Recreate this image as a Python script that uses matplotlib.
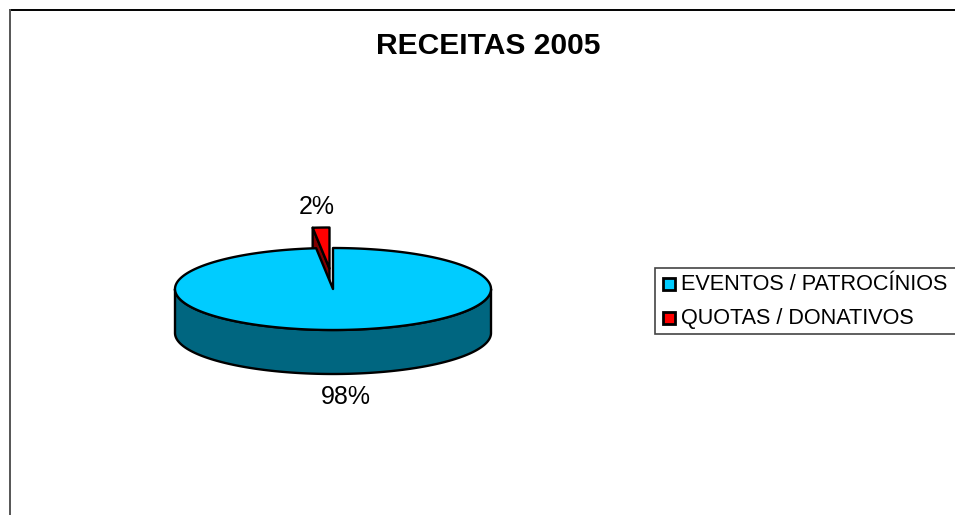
import numpy as np
import matplotlib
matplotlib.use("Agg")
import matplotlib.pyplot as plt
from matplotlib.patches import Polygon, Rectangle

plt.rcParams['font.family'] = ['Liberation Sans', 'DejaVu Sans']

categories = ["EVENTOS / PATROCÍNIOS", "QUOTAS / DONATIVOS"]
shares = [98.3, 1.7]
share_labels = ["98%", "2%"]
title = "RECEITAS 2005"

BLUE, BLUE_D = "#00CCFF", "#006680"
RED, RED_D = "#FF0000", "#800000"

W, H = 955, 515
fig = plt.figure(figsize=(W / 100, H / 100), dpi=100, facecolor="white")
ax = fig.add_axes([0, 0, 1, 1])
ax.set_xlim(0, W)
ax.set_ylim(H, 0)
ax.axis("off")

CX, CY, RX, RY, DEPTH, EXPLODE = 333, 289, 158, 41, 44, 20.5
LW = 1.7

def arc(t0, t1, dy=0, dx=0, n=240):
    t = np.linspace(t0, t1, n)
    return np.column_stack([CX + dx + RX * np.sin(t), CY + dy - RY * np.cos(t)])

# outer frame, cut by the picture's right and bottom edges
ax.plot([9.5, W + 5], [9.5, 9.5], color="black", lw=1.4, zorder=1)
ax.plot([9.5, 9.5], [9.5, H + 5], color="#555555", lw=1.4, zorder=1)

ang_blue = 2 * np.pi * shares[0] / sum(shares)

# exploded small slice, drawn behind the big one
dx_e = -3.5
dy_e = -EXPLODE
tip = np.array([CX + dx_e, CY + dy_e])
edge_arc = arc(ang_blue, 2 * np.pi, dy=dy_e, dx=dx_e, n=20)
left = edge_arc[0]
ax.add_patch(Polygon([tip, left, left + [0, DEPTH], tip + [0, DEPTH]],
                     closed=True, fc=RED_D, ec="black", lw=LW, joinstyle="round", zorder=2))
ax.add_patch(Polygon(np.vstack([tip, edge_arc]), closed=True, fc=RED, ec="black",
                     lw=LW, joinstyle="round", zorder=3))

# wall and top of the big slice
front = arc(np.pi / 2, 3 * np.pi / 2)
ax.add_patch(Polygon(np.vstack([front, (front + [0, DEPTH])[::-1]]), closed=True,
                     fc=BLUE_D, ec="black", lw=LW, joinstyle="round", zorder=4))
top = arc(0, ang_blue, n=480)
ax.add_patch(Polygon(np.vstack([[CX, CY], top]), closed=True, fc=BLUE, ec="black",
                     lw=LW, joinstyle="round", zorder=5))

# value labels
ax.text(346, 396.5, share_labels[0], fontsize=18, ha="center", va="center", color="black", zorder=6)
ax.text(317, 207, share_labels[1], fontsize=18, ha="center", va="center", color="black", zorder=6)

# title
ax.text(488.5, 46, title, fontsize=21.6, fontweight="bold", ha="center", va="center", color="black")

# legend
box = Rectangle((654.5, 267.5), 320, 66.5, fc="white", ec="#444444", lw=1.2, zorder=5, clip_on=True)
ax.add_patch(box)
for i, (name, col) in enumerate(zip(categories, [BLUE, RED])):
    y = 284 + i * 33.5
    ax.add_patch(Rectangle((663, y - 6), 12, 12, fc=col, ec="black", lw=2.0, zorder=6))
    ax.text(681, y + 1, name, fontsize=15.6, ha="left", va="center", color="black", zorder=6)

fig.savefig("out.png", dpi=100, facecolor="white")
